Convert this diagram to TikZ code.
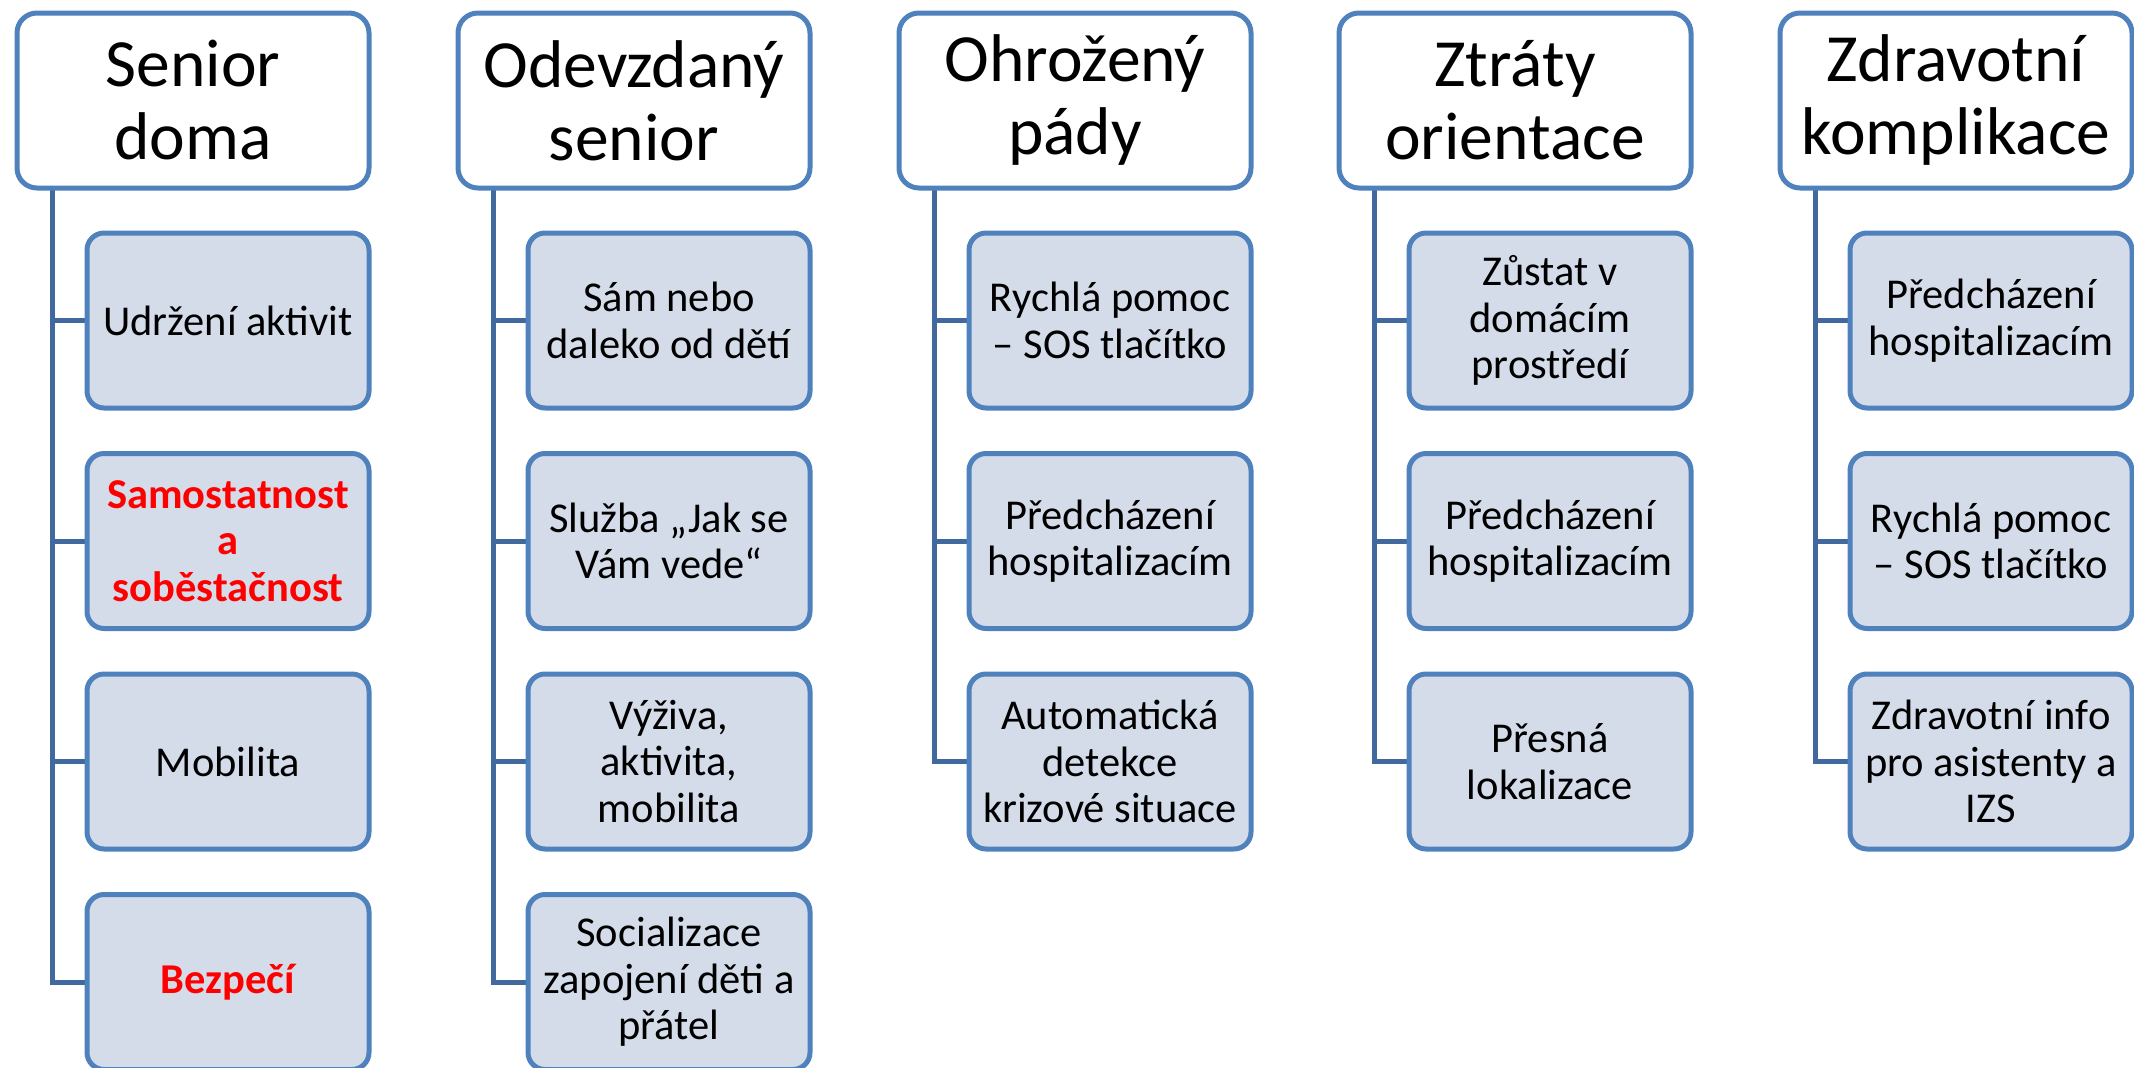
\documentclass[tikz,border=0pt]{standalone}
\usepackage{fontspec}
\setmainfont{Carlito}
\usetikzlibrary{backgrounds}
\definecolor{bordblue}{HTML}{4F81BD}
\definecolor{connblue}{HTML}{41699D}
\definecolor{fillblue}{HTML}{D4DCEA}
\definecolor{hotred}{HTML}{FF0000}
\tikzset{
  hdr/.style={draw=bordblue, line width=5pt, fill=white, rounded corners=20pt,
    minimum width=352pt, minimum height=175pt, inner sep=0pt, outer sep=0pt,
    align=center, font=\fontsize{67.5}{73}\selectfont},
  child/.style={draw=bordblue, line width=5pt, fill=fillblue, rounded corners=17pt,
    minimum width=282pt, minimum height=175pt, inner sep=0pt, outer sep=0pt,
    align=center, font=\fontsize{42.5}{46.5}\selectfont},
  redtxt/.style={text=hotred, font=\fontsize{42.5}{46.5}\selectfont\bfseries},
  conn/.style={draw=connblue, line width=5pt}
}
\begin{document}
\begin{tikzpicture}[x=1pt,y=-1pt]
\useasboundingbox (0,0) rectangle (2134,1068);
% column 1
\node[hdr] (h1) at (193,100.5) {Senior\\doma};
\node[child] (c11) at (228,320.5) {Udržení aktivit};
\node[child,redtxt] (c12) at (228,541) {Samostatnost\\a\\soběstačnost};
\node[child] (c13) at (228,761.5) {Mobilita};
\node[child,redtxt] (c14) at (228,982) {Bezpečí};
% column 2
\node[hdr] (h2) at (634,100.5) {Odevzdaný\\senior};
\node[child] (c21) at (669,320.5) {Sám nebo\\daleko od dětí};
\node[child] (c22) at (669,541) {Služba „Jak se\\Vám vede“};
\node[child] (c23) at (669,761.5) {Výživa,\\aktivita,\\mobilita};
\node[child] (c24) at (669,982) {Socializace\\zapojení děti a\\přátel};
% column 3
\node[hdr] (h3) at (1075,100.5) {Ohrožený\\pády};
\node[child] (c31) at (1110,320.5) {Rychlá pomoc\\– SOS tlačítko};
\node[child] (c32) at (1110,541) {Předcházení\\hospitalizacím};
\node[child] (c33) at (1110,761.5) {Automatická\\detekce\\krizové situace};
% column 4
\node[hdr] (h4) at (1515,100.5) {Ztráty\\orientace};
\node[child] (c41) at (1550,320.5) {Zůstat v\\domácím\\prostředí};
\node[child] (c42) at (1550,541) {Předcházení\\hospitalizacím};
\node[child] (c43) at (1550,761.5) {Přesná\\lokalizace};
% column 5
\node[hdr] (h5) at (1956,100.5) {Zdravotní\\komplikace};
\node[child] (c51) at (1991,320.5) {Předcházení\\hospitalizacím};
\node[child] (c52) at (1991,541) {Rychlá pomoc\\– SOS tlačítko};
\node[child] (c53) at (1991,761.5) {Zdravotní info\\pro asistenty a\\IZS};
\begin{scope}[on background layer]
\foreach \c in {c11,c12,c13,c14} \draw[conn] ([xshift=35pt]h1.south west) |- (\c.west);
\foreach \c in {c21,c22,c23,c24} \draw[conn] ([xshift=35pt]h2.south west) |- (\c.west);
\foreach \c in {c31,c32,c33} \draw[conn] ([xshift=35pt]h3.south west) |- (\c.west);
\foreach \c in {c41,c42,c43} \draw[conn] ([xshift=35pt]h4.south west) |- (\c.west);
\foreach \c in {c51,c52,c53} \draw[conn] ([xshift=35pt]h5.south west) |- (\c.west);
\end{scope}
\end{tikzpicture}
\end{document}
